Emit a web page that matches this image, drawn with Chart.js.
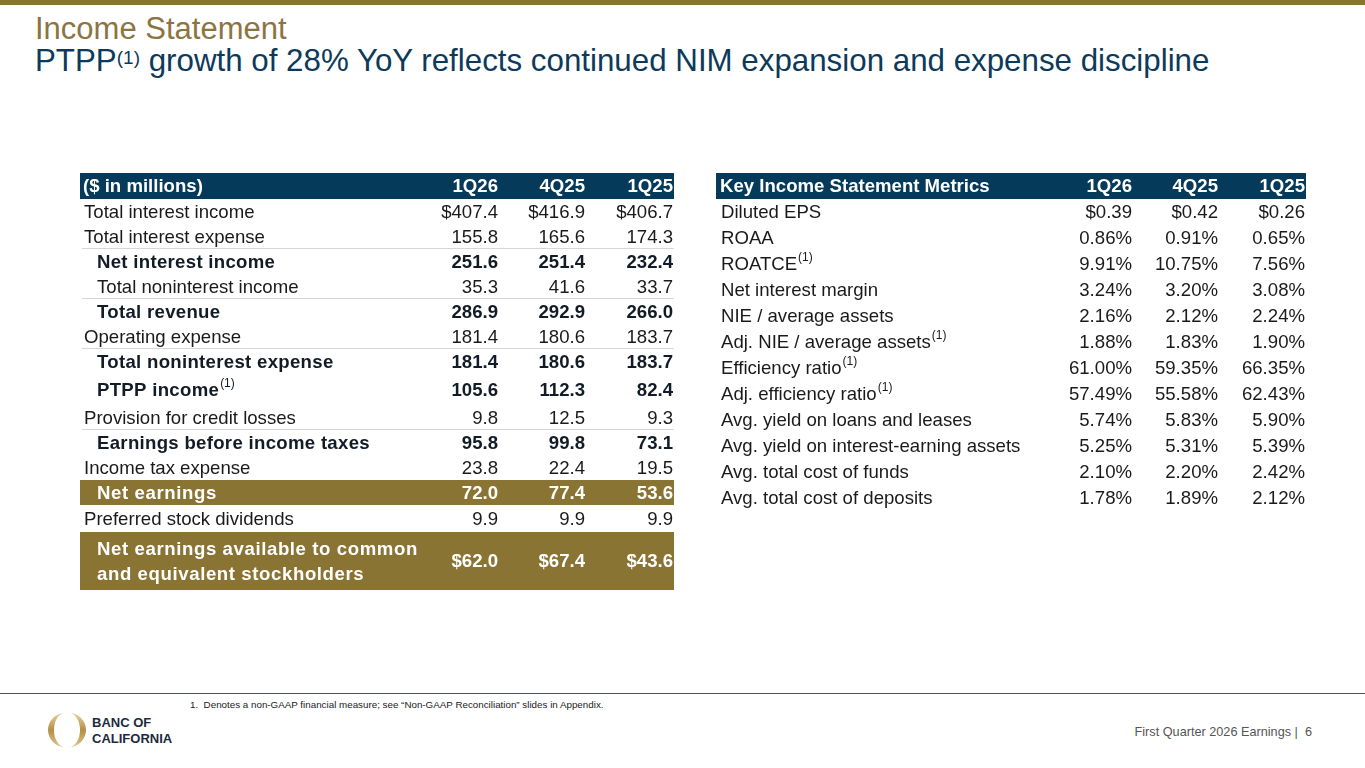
<!DOCTYPE html>
<html>
<head>
<meta charset="utf-8">
<title>Income Statement</title>
<script src="https://cdn.jsdelivr.net/npm/chart.js@4.4.1/dist/chart.umd.min.js"></script>
<style>
  body { margin: 0; width: 1365px; height: 768px; overflow: hidden; background: #fff; position: relative;
         font-family: "Liberation Sans", Arial, sans-serif; }
  #topbar { position: absolute; left: 0; top: 0; width: 1365px; height: 5px; background: #8a7434; }
  #title { position: absolute; left: 35px; top: 13px; font-size: 31px; line-height: 31px; color: #8c7441; white-space: nowrap; }
  #subtitle { position: absolute; left: 35px; top: 45px; font-size: 31.3px; line-height: 31px; color: #0d3a5a; white-space: nowrap; }
  #subtitle sup { font-size: 19px; position: relative; top: -3px; vertical-align: top; }
  canvas.tbl { position: absolute; }
  #footline { position: absolute; left: 0; top: 693px; width: 1365px; height: 1px; background: #4a5358; }
  #footnote { position: absolute; left: 190px; top: 700px; font-size: 9.8px; line-height: 10px; color: #222; white-space: nowrap; }
  #footer { position: absolute; right: 53px; top: 726px; font-size: 12.7px; line-height: 13px; color: #555; white-space: nowrap; }
  #logo { position: absolute; left: 48px; top: 711px; }
  #brand { position: absolute; left: 92px; top: 715px; font-size: 13px; line-height: 15.5px; font-weight: bold; color: #1b2b3c; }
</style>
</head>
<body>
<div id="topbar"></div>
<div id="title">Income Statement</div>
<div id="subtitle">PTPP<sup>(1)</sup> growth of 28% YoY reflects continued NIM expansion and expense discipline</div>

<canvas id="incomeTable" class="tbl" width="594" height="417" style="left:80px;top:173px"></canvas>
<canvas id="metricsTable" class="tbl" width="590" height="338" style="left:716px;top:173px"></canvas>

<div id="footline"></div>
<div id="footnote">1.&nbsp; Denotes a non-GAAP financial measure; see “Non-GAAP Reconciliation” slides in Appendix.</div>
<svg id="logo" width="38" height="38" viewBox="0 0 38 38">
  <defs>
    <linearGradient id="g" x1="0" y1="0" x2="0" y2="1">
      <stop offset="0" stop-color="#e6d3a0"/>
      <stop offset="0.5" stop-color="#b48f45"/>
      <stop offset="1" stop-color="#dcc58e"/>
    </linearGradient>
  </defs>
  <path d="M17 2 A17 17 0 0 0 17 36 A11 17 0 0 1 17 2 Z" fill="url(#g)"/>
  <path d="M21 2 A17 17 0 0 1 21 36 A11 17 0 0 0 21 2 Z" fill="url(#g)"/>
</svg>
<div id="brand">BANC OF<br>CALIFORNIA</div>
<div id="footer">First Quarter 2026 Earnings |&nbsp; 6</div>

<script>
// ---------------- Data ----------------
const periods = ['1Q26', '4Q25', '1Q25'];

const incomeRows = [
  'Total interest income', 'Total interest expense', 'Net interest income',
  'Total noninterest income', 'Total revenue', 'Operating expense',
  'Total noninterest expense', 'PTPP income', 'Provision for credit losses',
  'Earnings before income taxes', 'Income tax expense', 'Net earnings',
  'Preferred stock dividends', ['Net earnings available to common', 'and equivalent stockholders']
];
const income1Q26 = [407.4, 155.8, 251.6, 35.3, 286.9, 181.4, 181.4, 105.6, 9.8, 95.8, 23.8, 72.0, 9.9, 62.0];
const income4Q25 = [416.9, 165.6, 251.4, 41.6, 292.9, 180.6, 180.6, 112.3, 12.5, 99.8, 22.4, 77.4, 9.9, 67.4];
const income1Q25 = [406.7, 174.3, 232.4, 33.7, 266.0, 183.7, 183.7, 82.4, 9.3, 73.1, 19.5, 53.6, 9.9, 43.6];

const metricRows = [
  'Diluted EPS', 'ROAA', 'ROATCE', 'Net interest margin', 'NIE / average assets',
  'Adj. NIE / average assets', 'Efficiency ratio', 'Adj. efficiency ratio',
  'Avg. yield on loans and leases', 'Avg. yield on interest-earning assets',
  'Avg. total cost of funds', 'Avg. total cost of deposits'
];
const metric1Q26 = [0.39, 0.86, 9.91, 3.24, 2.16, 1.88, 61.00, 57.49, 5.74, 5.25, 2.10, 1.78];
const metric4Q25 = [0.42, 0.91, 10.75, 3.20, 2.12, 1.83, 59.35, 55.58, 5.83, 5.31, 2.20, 1.89];
const metric1Q25 = [0.26, 0.65, 7.56, 3.08, 2.24, 1.90, 66.35, 62.43, 5.90, 5.39, 2.42, 2.12];

// ---------------- Layout / styles ----------------
const NAVY = '#063a5b';
const GOLD = '#8a7434';
const FONT = '"Liberation Sans", Arial, sans-serif';

const incomeLayout = {
  header: '($ in millions)',
  width: 594,
  headerHeight: 26,
  rowHeights: [25, 25, 25, 25, 25, 25, 25, 31, 25, 25, 25, 25, 27, 58],
  colRight: [418, 505, 593],
  labelX: 4, indentX: 17,
  // plain | indent | bold | band
  styles: ['plain', 'plain', 'bold', 'indent', 'bold', 'plain', 'bold', 'bold', 'plain', 'bold', 'plain', 'band', 'plain', 'band'],
  notes: [7],
  rulesAfter: [1, 3, 5, 8],
  format: (v, i) => (i === 0 || i === 13 ? '$' : '') + v.toFixed(1)
};

const metricsLayout = {
  header: 'Key Income Statement Metrics',
  width: 590,
  headerHeight: 26,
  rowHeights: metricRows.map(() => 26),
  colRight: [416, 502, 589],
  labelX: 5, indentX: 5,
  styles: metricRows.map(() => 'plain'),
  notes: [2, 5, 6, 7],
  rulesAfter: [],
  format: (v, i) => i === 0 ? '$' + v.toFixed(2) : v.toFixed(2) + '%'
};

// row centres / edges in table units (px from table top)
function rowGeometry(layout) {
  const tops = [];
  let y = layout.headerHeight;
  layout.rowHeights.forEach(h => { tops.push(y); y += h; });
  return { tops, total: y, centers: tops.map((t, i) => t + layout.rowHeights[i] / 2) };
}

// ---------------- Table plugin ----------------
const tableCells = {
  id: 'tableCells',
  beforeDatasetsDraw(chart, args, opts) {
    const { ctx, scales: { x, y } } = chart;
    const L = opts.layout, g = opts.geo;
    const x0 = x.getPixelForValue(0), x1 = x.getPixelForValue(L.width);
    ctx.save();
    // header band
    ctx.fillStyle = NAVY;
    ctx.fillRect(x0, y.getPixelForValue(0), x1 - x0, y.getPixelForValue(L.headerHeight) - y.getPixelForValue(0));
    // gold bands
    L.styles.forEach((s, i) => {
      if (s !== 'band') return;
      const top = y.getPixelForValue(g.tops[i]);
      const bot = y.getPixelForValue(g.tops[i] + L.rowHeights[i]);
      ctx.fillStyle = GOLD;
      ctx.fillRect(x0, top, x1 - x0, bot - top);
    });
    // separators
    ctx.fillStyle = '#d6d6d6';
    L.rulesAfter.forEach(i => {
      const yy = Math.round(y.getPixelForValue(g.tops[i] + L.rowHeights[i]));
      ctx.fillRect(x0 + 2, yy - 1, x1 - x0 - 2, 1);
    });
    ctx.restore();
  },
  afterDatasetsDraw(chart, args, opts) {
    const { ctx, scales: { x, y } } = chart;
    const L = opts.layout, g = opts.geo, rows = opts.rows;
    const size = 18.6;
    const reg = `${size}px ${FONT}`, bold = `bold ${size}px ${FONT}`, sup = `12px ${FONT}`;
    ctx.save();
    ctx.textBaseline = 'middle';

    // header row
    const hy = y.getPixelForValue(L.headerHeight / 2) + 1;
    ctx.fillStyle = '#fff';
    ctx.font = bold;
    ctx.textAlign = 'left';
    ctx.fillText(L.header, x.getPixelForValue(L.labelX - 1), hy);
    ctx.textAlign = 'right';
    periods.forEach((p, j) => ctx.fillText(p, x.getPixelForValue(L.colRight[j]), hy));

    // row labels
    rows.forEach((label, i) => {
      const s = L.styles[i];
      const isBold = s === 'bold' || s === 'band';
      const lx = x.getPixelForValue(s === 'plain' ? L.labelX : L.indentX);
      const cy = y.getPixelForValue(g.centers[i]) + 1;
      ctx.fillStyle = s === 'band' ? '#fff' : (isBold ? '#121c26' : '#1a1a1a');
      ctx.font = isBold ? bold : reg;
      ctx.letterSpacing = s === 'band' ? '0.6px' : (isBold ? '0.3px' : '0px');
      ctx.textAlign = 'left';
      const lines = Array.isArray(label) ? label : [label];
      lines.forEach((t, k) => {
        const ly = cy + (lines.length > 1 ? (k === 0 ? -12 : 13) : 0);
        ctx.fillText(t, lx, ly);
        if (L.notes.includes(i)) {
          const w = ctx.measureText(t).width;
          ctx.font = sup;
          ctx.letterSpacing = '0px';
          ctx.fillText('(1)', lx + w + 1, ly - 7);
          ctx.font = isBold ? bold : reg;
        }
      });
      ctx.letterSpacing = '0px';
    });

    // values, positioned by the datasets' own points
    chart.data.datasets.forEach((ds, j) => {
      const meta = chart.getDatasetMeta(j);
      meta.data.forEach((pt, i) => {
        const s = L.styles[i];
        const isBold = s === 'bold' || s === 'band';
        ctx.fillStyle = s === 'band' ? '#fff' : (isBold ? '#121c26' : '#1a1a1a');
        ctx.font = isBold ? bold : reg;
        ctx.textAlign = 'right';
        ctx.fillText(L.format(ds.data[i].v, i), pt.x, pt.y + 1);
      });
    });
    ctx.restore();
  }
};

function makeTable(canvasId, rows, series, layout) {
  const geo = rowGeometry(layout);
  return new Chart(document.getElementById(canvasId), {
    type: 'scatter',
    data: {
      datasets: series.map((vals, j) => ({
        label: periods[j],
        data: vals.map((v, i) => ({ x: layout.colRight[j], y: geo.centers[i], v: v })),
        pointRadius: 0
      }))
    },
    options: {
      responsive: false,
      animation: false,
      events: [],
      layout: { padding: 0 },
      plugins: {
        legend: { display: false },
        tooltip: { enabled: false },
        tableCells: { layout: layout, geo: geo, rows: rows }
      },
      scales: {
        x: { type: 'linear', display: false, min: 0, max: layout.width },
        y: { type: 'linear', display: false, min: 0, max: geo.total, reverse: true }
      }
    },
    plugins: [tableCells]
  });
}

makeTable('incomeTable', incomeRows, [income1Q26, income4Q25, income1Q25], incomeLayout);
makeTable('metricsTable', metricRows, [metric1Q26, metric4Q25, metric1Q25], metricsLayout);
</script>
</body>
</html>
